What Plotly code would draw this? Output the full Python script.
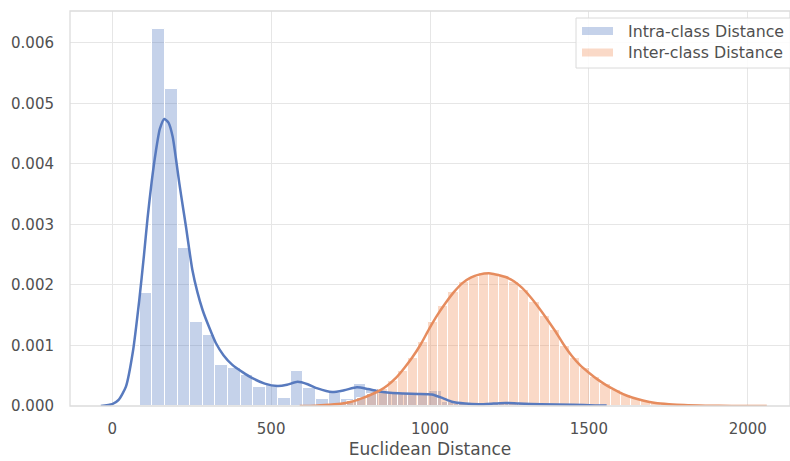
import plotly.graph_objects as go

# ---------------- data ----------------
intra_bin_start = 87.0
intra_bin_width = 39.6
intra_counts = [0.00186, 0.00623, 0.00523, 0.00261, 0.00138, 0.00117, 0.00068, 0.00062,
                0.00051, 0.00032, 0.00035, 0.00013, 0.00057, 0.00029, 0.00012, 0.00022,
                0.00012, 0.00036, 0.00028, 0.00023, 0.00022, 0.00022, 0.00021, 0.00024,
                0.00006, 0.00003, 0.00002, 0.00003, 0.00005, 0.00004, 0.00003, 0.00002,
                0.00002, 0.00001]

inter_bin_start = 675.0
inter_bin_width = 31.9
inter_counts = [0.00002, 0.00004, 0.00008, 0.00013, 0.00020, 0.00028, 0.00041, 0.00057,
                0.00080, 0.00106, 0.00138, 0.00165, 0.00188, 0.00204, 0.00213, 0.00219,
                0.00218, 0.00214, 0.00205, 0.00191, 0.00172, 0.00148, 0.00125, 0.00099,
                0.00080, 0.00062, 0.00048, 0.00036, 0.00026, 0.00018, 0.00012, 0.00008,
                0.00005, 0.00003, 0.00002, 0.00001, 0.00001, 0.000005, 0.000003, 0.000002,
                0.000001]

intra_kde_x = [-36, 0, 20, 43, 65, 85, 100, 111, 124, 137, 150, 164, 177, 190, 200, 211,
               222, 232, 252, 268, 284, 305, 326, 350, 378, 410, 441, 480, 520, 550, 583,
               615, 646, 692, 730, 770, 805, 840, 900, 960, 1006, 1040, 1069, 1110, 1154,
               1200, 1238, 1280, 1350, 1450, 1520, 1556]
intra_kde_y = [0.0, 0.00003, 0.00010, 0.00032, 0.0009, 0.00175, 0.0025, 0.0031, 0.0037,
               0.0042, 0.00458, 0.00474, 0.00468, 0.00445, 0.0041, 0.00368, 0.0033, 0.00296,
               0.00225, 0.00188, 0.00159, 0.0013, 0.00104, 0.00084, 0.00068, 0.00056,
               0.00046, 0.00037, 0.00033, 0.00035, 0.0004, 0.00036, 0.00029, 0.00023,
               0.00026, 0.00031, 0.00028, 0.00024, 0.00021, 0.0002, 0.00019, 0.00013,
               0.00007, 0.00004, 0.00003, 0.00004, 0.00005, 0.00004, 0.00003, 0.00002,
               0.00001, 0.00001]

inter_kde_x = [590, 640, 682, 724, 760, 787, 815, 840, 866, 892, 918, 944, 971, 997, 1023,
               1049, 1075, 1102, 1128, 1154, 1191, 1238, 1264, 1290, 1316, 1343, 1369, 1395,
               1420, 1446, 1473, 1500, 1527, 1553, 1580, 1606, 1636, 1670, 1710, 1752, 1800,
               1867, 1950, 2060]
inter_kde_y = [0.0, 0.000005, 0.00002, 0.00004, 0.00008, 0.00013, 0.00019, 0.00025, 0.00034,
               0.00046, 0.00062, 0.0008, 0.00102, 0.00127, 0.0015, 0.0017, 0.00188, 0.00203,
               0.00212, 0.00217, 0.00219, 0.00213, 0.00206, 0.00195, 0.0018, 0.00162,
               0.00143, 0.00123, 0.00102, 0.00083, 0.00067, 0.00055, 0.00044, 0.00035,
               0.00027, 0.0002, 0.00014, 0.00009, 0.00005, 0.00003, 0.000015, 0.000006,
               0.000002, 0.0]

x_ticks = [0, 500, 1000, 1500, 2000]
y_ticks = [0.000, 0.001, 0.002, 0.003, 0.004, 0.005, 0.006]
series_names = ["Intra-class Distance", "Inter-class Distance"]
x_title = "Euclidean Distance"

# ---------------- styling ----------------
BLUE_FILL = "rgba(76,114,190,0.32)"
BLUE_LINE = "rgb(88,122,190)"
ORANGE_FILL = "rgba(238,133,74,0.31)"
ORANGE_LINE = "rgb(230,140,94)"
TEXT = "#505050"
GRID = "#e6e6e6"
FONT = "DejaVu Sans"

intra_centers = [intra_bin_start + intra_bin_width * (i + 0.5) for i in range(len(intra_counts))]
inter_centers = [inter_bin_start + inter_bin_width * (i + 0.5) for i in range(len(inter_counts))]

fig = go.Figure()
fig.add_trace(go.Bar(x=intra_centers, y=intra_counts, width=intra_bin_width,
                     marker=dict(color=BLUE_FILL, line=dict(color="white", width=1)),
                     showlegend=False, name=series_names[0]))
fig.add_trace(go.Scatter(x=intra_kde_x, y=intra_kde_y, mode="lines",
                         line=dict(color=BLUE_LINE, width=2.5, shape="spline", smoothing=0.6),
                         showlegend=False))
fig.add_trace(go.Bar(x=inter_centers, y=inter_counts, width=inter_bin_width,
                     marker=dict(color=ORANGE_FILL, line=dict(color="white", width=1)),
                     showlegend=False, name=series_names[1]))
fig.add_trace(go.Scatter(x=inter_kde_x, y=inter_kde_y, mode="lines",
                         line=dict(color=ORANGE_LINE, width=2.5, shape="spline", smoothing=0.6),
                         showlegend=False))

W, H = 790, 461
L, R, T, B = 70, 0, 11, 55
pw, ph = W - L - R, H - T - B

def px(xp):
    return (xp - L) / pw

def py(yp):
    return (H - B - yp) / ph

shapes = [
    # plot frame (light spines)
    dict(type="rect", xref="paper", yref="paper", x0=0, x1=1, y0=0, y1=1,
         line=dict(color="#dcdcdc", width=1.3), fillcolor="rgba(0,0,0,0)", layer="above"),
    # legend box
    dict(type="rect", xref="paper", yref="paper", x0=px(576), x1=px(803), y0=py(68), y1=py(18),
         line=dict(color="#dadada", width=1), fillcolor="rgba(255,255,255,0.85)", layer="above"),
    dict(type="rect", xref="paper", yref="paper", x0=px(582), x1=px(613), y0=py(35), y1=py(27),
         line=dict(width=0), fillcolor=BLUE_FILL, layer="above"),
    dict(type="rect", xref="paper", yref="paper", x0=px(582), x1=px(613), y0=py(56.5), y1=py(48.5),
         line=dict(width=0), fillcolor=ORANGE_FILL, layer="above"),
]
annotations = [
    dict(text=series_names[0], xref="paper", yref="paper", x=px(626), y=py(31), xanchor="left",
         yanchor="middle", showarrow=False, font=dict(family=FONT, size=15.8, color=TEXT)),
    dict(text=series_names[1], xref="paper", yref="paper", x=px(626), y=py(52.5), xanchor="left",
         yanchor="middle", showarrow=False, font=dict(family=FONT, size=15.8, color=TEXT)),
]

fig.update_layout(
    width=W, height=H,
    margin=dict(l=L, r=R, t=T, b=B, autoexpand=False),
    paper_bgcolor="white", plot_bgcolor="white",
    barmode="overlay", bargap=0,
    font=dict(family=FONT, color=TEXT, size=15),
    shapes=shapes, annotations=annotations,
    xaxis=dict(range=[-133, 2133], tickvals=x_ticks, ticktext=[str(v) for v in x_ticks],
               showgrid=True, gridcolor=GRID, gridwidth=1.3, zeroline=False, showline=False,
               ticks="", ticklabelstandoff=12, tickfont=dict(size=15, color=TEXT),
               title=dict(text=x_title, font=dict(size=17, color=TEXT), standoff=6)),
    yaxis=dict(range=[0, 0.006524], tickvals=y_ticks, ticktext=["%.3f" % v for v in y_ticks],
               showgrid=True, gridcolor=GRID, gridwidth=1.3, zeroline=False, showline=False,
               ticks="", ticklabelstandoff=15, tickfont=dict(size=15, color=TEXT)),
)

fig.write_html("out.html", config={"displayModeBar": False},
               post_script="document.body.style.margin='0';document.body.style.overflow='hidden';")
